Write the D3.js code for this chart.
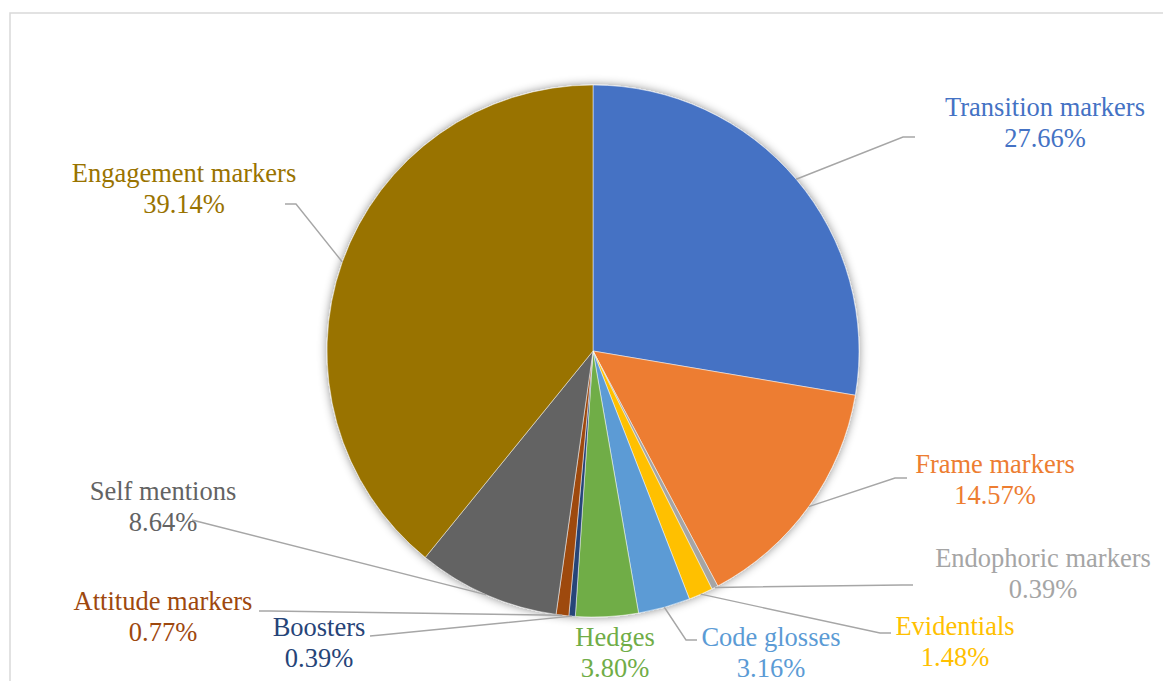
<!DOCTYPE html>
<html>
<head>
<meta charset="utf-8">
<script src="https://cdn.jsdelivr.net/npm/d3@7"></script>
<style>
  html, body { margin: 0; padding: 0; background: #fff; overflow: hidden; }
</style>
</head>
<body>
<div id="chartContainer"></div>
<script>
// metadiscourse markers - pie
const categories = ["Transition markers", "Frame markers", "Endophoric markers", "Evidentials",
    "Code glosses", "Hedges", "Boosters", "Attitude markers", "Self mentions", "Engagement markers"];
const values = [27.66, 14.57, 0.39, 1.48, 3.16, 3.80, 0.39, 0.77, 8.64, 39.14];

(function() {
    const fullWidth = 1163, fullHeight = 681;
    const cx = 593, cy = 351, radius = 266;

    const palette = ["#4472C4", "#ED7D31", "#A5A5A5", "#FFC000", "#5B9BD5",
                     "#70AD47", "#264478", "#9E480E", "#636363", "#997300"];
    const color = d3.scaleOrdinal().domain(categories).range(palette);

    // label layout: text centre x, first baseline y, leader elbow + end (null = no leader)
    const labelLayout = {
        "Transition markers": {x: 1045, y: 116, elbow: [903, 137], end: [915, 137]},
        "Frame markers":      {x: 995,  y: 473, elbow: [895, 478], end: [907, 478]},
        "Endophoric markers": {x: 1043, y: 567, elbow: [902, 585], end: [913, 585]},
        "Evidentials":        {x: 955,  y: 635, elbow: [880, 633], end: [891, 633]},
        "Code glosses":       {x: 771,  y: 646, elbow: [686, 640], end: [697, 640]},
        "Hedges":             {x: 615,  y: 646, elbow: null, end: null},
        "Boosters":           {x: 319,  y: 636, elbow: [381, 635], end: [370, 636]},
        "Attitude markers":   {x: 163,  y: 610, elbow: [270, 611], end: [259, 611]},
        "Self mentions":      {x: 163,  y: 500, elbow: null, end: [192, 520]},
        "Engagement markers": {x: 184,  y: 182, elbow: [296, 204], end: [285, 204]}
    };

    const svg = d3.select("#chartContainer").append("svg")
        .attr("width", fullWidth)
        .attr("height", fullHeight)
        .attr("viewBox", [0, 0, fullWidth, fullHeight]);

    // chart area outline (runs off the right and bottom)
    svg.append("rect")
        .attr("x", 10).attr("y", 13)
        .attr("width", fullWidth + 20).attr("height", fullHeight + 20)
        .attr("fill", "none")
        .attr("stroke", "#d9d9d9")
        .attr("stroke-width", 1.5);

    const defs = svg.append("defs");
    defs.append("filter")
        .attr("id", "pieShadow")
        .attr("x", "-20%").attr("y", "-20%").attr("width", "140%").attr("height", "140%")
        .append("feDropShadow")
        .attr("dx", 0).attr("dy", 0)
        .attr("stdDeviation", 5)
        .attr("flood-color", "#000")
        .attr("flood-opacity", 0.45);

    const data = categories.map((c, i) => ({name: c, value: values[i]}));

    const pie = d3.pie().value(d => d.value).sort(null);
    const arcs = pie(data);
    const arc = d3.arc().innerRadius(0).outerRadius(radius);
    const edge = d3.arc().innerRadius(radius).outerRadius(radius);

    const g = svg.append("g").attr("transform", `translate(${cx}, ${cy})`);

    g.append("g")
        .attr("filter", "url(#pieShadow)")
        .selectAll("path")
        .data(arcs)
        .join("path")
        .attr("d", arc)
        .attr("fill", d => color(d.data.name))
        .attr("stroke", "#fff")
        .attr("stroke-width", 0.5);

    // leader lines
    const leaders = svg.append("g")
        .attr("fill", "none")
        .attr("stroke", "#a6a6a6")
        .attr("stroke-width", 1.4);

    arcs.forEach(d => {
        const lay = labelLayout[d.data.name];
        if (!lay.end) return;
        const p = edge.centroid(d);
        const pts = [[p[0] + cx, p[1] + cy]];
        if (lay.elbow) pts.push(lay.elbow);
        pts.push(lay.end);
        leaders.append("path").attr("d", d3.line()(pts));
    });

    // labels
    const labels = svg.append("g")
        .attr("text-anchor", "middle");

    arcs.forEach(d => {
        const lay = labelLayout[d.data.name];
        const t = labels.append("text")
            .style("font-family", '"Liberation Serif"')
            .style("font-size", "26.5px")
            .attr("fill", color(d.data.name));
        t.append("tspan")
            .attr("x", lay.x).attr("y", lay.y)
            .text(d.data.name);
        t.append("tspan")
            .attr("x", lay.x).attr("y", lay.y + 30.5)
            .text(d.data.value.toFixed(2) + "%");
    });
})();
</script>
</body>
</html>
